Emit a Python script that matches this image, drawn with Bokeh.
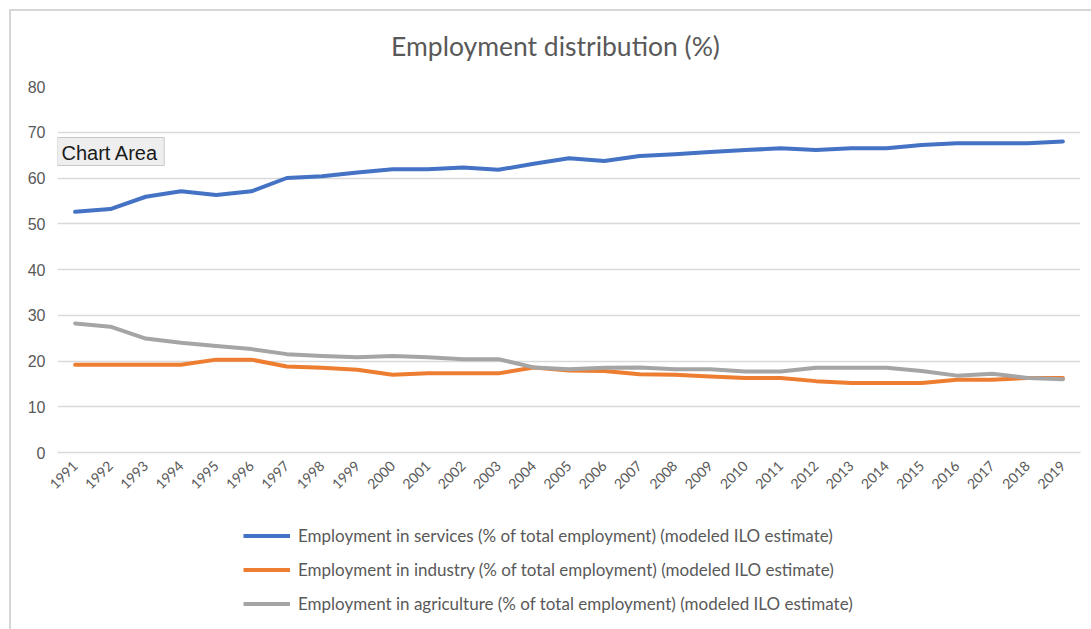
import math
from bokeh.plotting import figure
from bokeh.layouts import column
from bokeh.models import (Range1d, FixedTicker, Legend, LegendItem, Label)
from bokeh.embed import file_html
from bokeh.resources import INLINE

years = [str(y) for y in range(1991, 2020)]
services = [52.6, 53.2, 55.9, 57.1, 56.3, 57.1, 60.0, 60.4, 61.2, 61.9, 61.9, 62.3, 61.8, 63.1, 64.3,
            63.7, 64.8, 65.2, 65.7, 66.1, 66.5, 66.1, 66.5, 66.5, 67.2, 67.6, 67.6, 67.6, 68.0]
industry = [19.2, 19.2, 19.2, 19.2, 20.3, 20.3, 18.8, 18.5, 18.1, 17.0, 17.3, 17.3, 17.3, 18.6, 17.9,
            17.8, 17.1, 17.0, 16.6, 16.3, 16.3, 15.6, 15.2, 15.2, 15.2, 15.9, 15.9, 16.3, 16.3]
agriculture = [28.2, 27.5, 24.9, 24.0, 23.3, 22.6, 21.5, 21.1, 20.8, 21.1, 20.8, 20.4, 20.4, 18.6, 18.2,
               18.5, 18.6, 18.2, 18.2, 17.7, 17.7, 18.5, 18.5, 18.5, 17.8, 16.8, 17.2, 16.3, 16.0]
y_ticks = [0, 10, 20, 30, 40, 50, 60, 70, 80]
series_names = [
    "Employment in services (% of total employment) (modeled ILO estimate)",
    "Employment in industry (% of total employment) (modeled ILO estimate)",
    "Employment in agriculture (% of total employment) (modeled ILO estimate)",
]
colors = ["#4472C4", "#ED7D31", "#A5A5A5"]
chart_title = "Employment distribution (%)"

OFF = 11  # page offset of the chart area (margin + border)
W = 1091 - OFF
FRAME_LEFT, FRAME_TOP, FRAME_BOTTOM = 57, 86, 452   # page pixels of the plot frame
H0 = 65                       # title strip: page 11..76
P_TOP = OFF + H0              # 76
H1 = 511 - P_TOP              # main chart: page 76..511
H2 = 629 - 511                # legend strip: page 511..629


def strip(height):
    f = figure(width=W, height=height, x_range=Range1d(0, 1), y_range=Range1d(0, 1),
               x_axis_type=None, y_axis_type=None, output_backend="svg", toolbar_location=None,
               min_border=0, background_fill_color="white", border_fill_color="white")
    f.outline_line_color = None
    f.xgrid.visible = False
    f.ygrid.visible = False
    return f


# title strip
p0 = strip(H0)
p0.add_layout(Label(x=555 - FRAME_LEFT, y=P_TOP - 45, x_units="screen", y_units="screen",
                    text=chart_title, text_font="Lato", text_font_size="26.5px",
                    text_color="#595959", text_align="center", text_baseline="middle"))

# main chart
p = figure(width=W, height=H1, x_range=years, y_range=Range1d(0, 80),
           output_backend="svg", toolbar_location=None,
           min_border_left=FRAME_LEFT - OFF, min_border_right=11,
           min_border_top=FRAME_TOP - P_TOP, min_border_bottom=511 - FRAME_BOTTOM,
           background_fill_color="white", border_fill_color="white")
p.outline_line_color = None

renderers = []
for vals, col in zip([services, industry, agriculture], colors):
    r = p.line(years, vals, line_color=col, line_width=4, line_cap="round", line_join="round")
    renderers.append(r)

p.yaxis.ticker = FixedTicker(ticks=y_ticks)
p.ygrid.ticker = FixedTicker(ticks=y_ticks)
p.ygrid.grid_line_color = "#d9d9d9"
p.ygrid.grid_line_width = 1.3
p.xgrid.grid_line_color = None

p.yaxis.axis_line_color = None
p.yaxis.major_tick_line_color = None
p.yaxis.minor_tick_line_color = None
p.yaxis.major_tick_out = 0
p.yaxis.minor_tick_out = 0
p.yaxis.major_label_text_font = "Liberation Sans"
p.yaxis.major_label_text_font_size = "16px"
p.yaxis.major_label_text_color = "#595959"
p.yaxis.major_label_standoff = 12

p.xaxis.axis_line_color = "#d9d9d9"
p.xaxis.axis_line_width = 1.3
p.xaxis.major_tick_line_color = None
p.xaxis.minor_tick_line_color = None
p.xaxis.major_tick_out = 0
p.xaxis.minor_tick_out = 0
p.xaxis.major_label_orientation = math.pi / 4
p.xaxis.major_label_text_font = "Lato"
p.xaxis.major_label_text_font_size = "14px"
p.xaxis.major_label_text_color = "#595959"
p.xaxis.major_label_standoff = 11

# "Chart Area" hover tag
p.add_layout(Label(x=0, y=FRAME_BOTTOM - 151, x_units="screen", y_units="screen",
                   text="Chart Area",
                   text_font="Liberation Sans", text_font_size="20px", text_color="#1a1a1a",
                   text_baseline="middle", text_align="left",
                   background_fill_color="#eeeeee", border_line_color="#c8c8c8",
                   padding=(4, 6, 4, 2)))

# legend strip
p2 = strip(H2)
dummies = [p2.line(x=[-10, -9], y=[-10, -9], line_color=c, line_width=4) for c in colors]
legend = Legend(items=[LegendItem(label=n, renderers=[r]) for n, r in zip(series_names, dummies)],
                location=(243 - FRAME_LEFT, 10), orientation="vertical",
                label_text_font="Lato", label_text_font_size="17px", label_text_color="#595959",
                glyph_width=47, glyph_height=31, label_height=31, spacing=3, label_standoff=8,
                padding=0, margin=0, border_line_color=None, background_fill_alpha=0)
p2.add_layout(legend, "center")

layout = column(p0, p, p2, spacing=0,
                styles={"margin-top": "9px", "margin-left": "9px",
                        "border-top": "2px solid #d6d6d6", "border-left": "2px solid #d6d6d6"})

open("out.html", "w").write(file_html(layout, INLINE))
